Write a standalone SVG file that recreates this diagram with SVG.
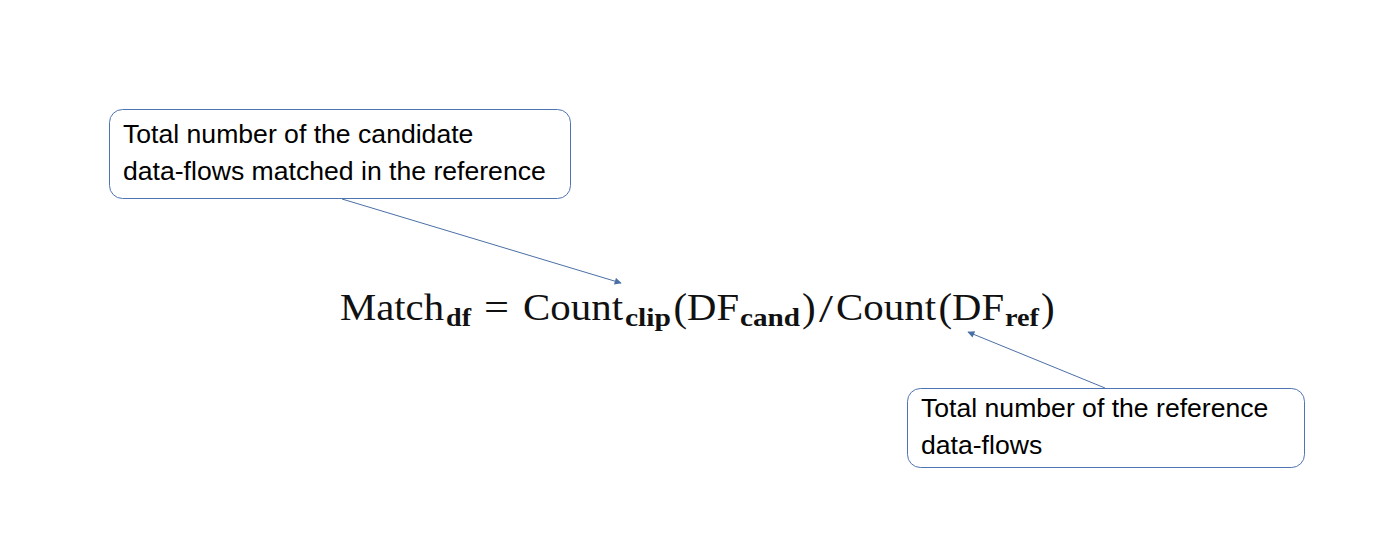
<svg xmlns="http://www.w3.org/2000/svg" width="1399" height="540" viewBox="0 0 1399 540">
<style>
.box{fill:#ffffff;stroke:#4f74b3;stroke-width:1}
.lbl{font-family:"Liberation Sans",Arial,sans-serif;font-size:26.6px;fill:#000}
.conn{stroke:#4a6fa5;stroke-width:1;fill:none;marker-end:url(#ah)}
.m{font-family:"Liberation Serif","Times New Roman",serif;font-size:38px;fill:#111}
.p{font-family:"Liberation Serif","Times New Roman",serif;font-size:41px;fill:#111}
.s{font-family:"Liberation Serif","Times New Roman",serif;font-size:25.6px;font-weight:bold;fill:#111}
</style>
<defs>
<marker id="ah" viewBox="0 0 10 10" refX="9" refY="5" markerWidth="9" markerHeight="7" markerUnits="userSpaceOnUse" orient="auto">
<path d="M0,0 L10,5 L0,10 z" fill="#4a6fa5"/>
</marker>
</defs>
<rect width="1399" height="540" fill="#ffffff"/>
<g id="connectors">
<line class="conn" x1="342" y1="199" x2="621" y2="283"/>
<line class="conn" x1="1105" y1="388" x2="968" y2="332"/>
</g>
<g id="node-candidate">
<rect class="box" x="109.5" y="109.5" width="461" height="89" rx="13" ry="13"/>
<text class="lbl" x="123" y="143">Total number of the candidate</text>
<text class="lbl" x="123" y="180">data-flows matched in the reference</text>
</g>
<g id="node-reference">
<rect class="box" x="907.5" y="388.5" width="397" height="79" rx="13" ry="13"/>
<text class="lbl" x="921" y="417">Total number of the reference</text>
<text class="lbl" x="921" y="454">data-flows</text>
</g>
<g id="formula">
<text class="m" x="340" y="320" textLength="104" lengthAdjust="spacingAndGlyphs">Match</text>
<text class="s" x="446" y="325.5" textLength="25" lengthAdjust="spacingAndGlyphs">df</text>
<text class="m" x="484" y="320" textLength="25" lengthAdjust="spacingAndGlyphs">=</text>
<text class="m" x="523" y="320" textLength="100" lengthAdjust="spacingAndGlyphs">Count</text>
<text class="s" x="625" y="325.5" textLength="46" lengthAdjust="spacingAndGlyphs">clip</text>
<text class="p" x="673.5" y="321">(</text>
<text class="m" x="687" y="320" textLength="52" lengthAdjust="spacingAndGlyphs">DF</text>
<text class="s" x="740" y="325.5" textLength="60" lengthAdjust="spacingAndGlyphs">cand</text>
<text class="p" x="802" y="321">)</text>
<text class="p" x="819" y="322" textLength="14" lengthAdjust="spacingAndGlyphs">/</text>
<text class="m" x="836" y="320" textLength="100" lengthAdjust="spacingAndGlyphs">Count</text>
<text class="p" x="938.5" y="321">(</text>
<text class="m" x="952" y="320" textLength="52" lengthAdjust="spacingAndGlyphs">DF</text>
<text class="s" x="1005" y="325.5" textLength="34" lengthAdjust="spacingAndGlyphs">ref</text>
<text class="p" x="1041" y="321">)</text>
</g>
</svg>
